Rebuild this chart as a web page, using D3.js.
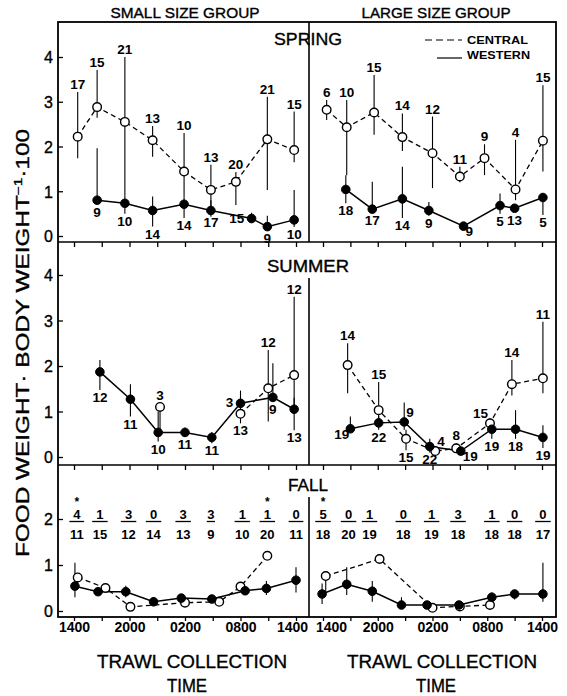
<!DOCTYPE html>
<html>
<head>
<meta charset="utf-8">
<script src="https://cdn.jsdelivr.net/npm/d3@7"></script>
<style>
  body { margin: 0; background: #fff; }
  svg { display: block; font-family: 'Liberation Sans', Arial, Helvetica, sans-serif; }
  .heavy { stroke: #000; stroke-width: 0.35px; }
</style>
</head>
<body>
<svg id="chart" width="567" height="696"></svg>
<script>
// rows: [hours after 1400, mean, lower end of bar, upper end of bar, n]
const springSmallCentral = [
  [0.4, 2.22, 1.74, 3.22, 17], [2.5, 2.88, 2.64, 3.71, 15], [5.5, 2.55, 0.9, 4.0, 21],
  [8.5, 2.14, 1.77, 2.46, 13], [11.9, 1.44, 0.88, 2.3, 10], [14.8, 1.03, 0.43, 1.59, 13],
  [17.5, 1.21, 0.69, 1.43, 20], [20.9, 2.16, 1.03, 3.11, 21], [23.8, 1.92, 1.65, 2.78, 15]
];
const springSmallWestern = [
  [2.5, 0.8, 0.8, 1.96, 9], [5.5, 0.73, 0.5, 0.9, 10], [8.5, 0.57, 0.21, 0.88, 14],
  [11.9, 0.71, 0.4, 0.88, 14], [14.8, 0.57, 0.47, 0.8, 17], [19.2, 0.39, 0.3, 0.52, 15],
  [20.9, 0.21, 0.15, 0.45, 9], [23.8, 0.36, 0.2, 1.03, 10]
];
const springLargeCentral = [
  [0.4, 2.82, 2.59, 3.04, 6], [2.6, 2.43, 1.36, 3.04, 10], [5.6, 2.76, 2.26, 3.6, 15],
  [8.7, 2.21, 1.9, 2.74, 14], [12.0, 1.85, 1.07, 2.67, 12], [15.0, 1.33, 1.2, 1.55, 11],
  [17.7, 1.74, 1.36, 2.05, 9], [21.1, 1.04, 0.8, 2.15, 4], [24.1, 2.13, 1.44, 3.37, 15]
];
const springLargeWestern = [
  [2.5, 1.04, 0.73, 1.36, 18], [5.4, 0.6, 0.6, 1.21, 17], [8.7, 0.83, 0.4, 1.55, 14],
  [11.6, 0.57, 0.45, 0.76, 9], [15.4, 0.22, 0.22, 0.3, 9], [19.4, 0.68, 0.5, 0.95, 5],
  [21.0, 0.62, 0.62, 0.7, 13], [24.1, 0.86, 0.47, 0.86, 5]
];
// null = break in the connecting line
const summerSmallCentral = [
  [9.3, 1.1, 0.6, 1.1, 3], null, [18.0, 0.95, 0.74, 0.95, 13],
  [21.0, 1.51, 0.78, 2.35, 12], [23.8, 1.8, 1.0, 3.52, 12]
];
const summerSmallWestern = [
  [2.8, 1.87, 1.47, 2.13, 12], [6.1, 1.27, 0.89, 1.6, 11], [9.1, 0.54, 0.34, 1.0, 10],
  [12.0, 0.54, 0.45, 0.65, 11], [14.9, 0.43, 0.3, 0.55, 11], [18.0, 1.18, 0.9, 1.46, 3],
  [21.5, 1.31, 1.31, 2.06, 9], [23.8, 1.05, 0.59, 1.3, 13]
];
const summerLargeCentral = [
  [2.7, 2.02, 1.4, 2.5, 14], [6.1, 1.03, 0.75, 1.65, 15], [9.1, 0.4, 0.15, 0.6, 15],
  [12.3, 0.13, 0.1, 0.2, 4], [14.6, 0.19, 0.19, 0.3, 8], [18.3, 0.74, 0.6, 0.85, 15],
  [20.7, 1.6, 1.35, 2.13, 14], [24.1, 1.73, 1.4, 2.97, 11]
];
const summerLargeWestern = [
  [3.0, 0.62, 0.62, 0.89, 19], [6.1, 0.75, 0.6, 0.9, 22], [8.9, 0.77, 0.6, 1.2, 9],
  [11.7, 0.23, 0.1, 0.4, 22], [15.1, 0.13, 0.13, 0.2, 19], [18.5, 0.61, 0.4, 0.8, 19],
  [21.1, 0.61, 0.4, 1.03, 18], [24.1, 0.43, 0.2, 0.7, 19]
];
const fallSmallCentral = [
  [0.4, 0.73, 0.5, 0.8], [3.4, 0.5, 0.45, 0.55], [6.1, 0.09, 0.05, 0.12], [12.0, 0.18, 0.15, 0.22],
  [15.7, 0.2, 0.18, 0.23], [18.0, 0.53, 0.45, 0.6], [20.9, 1.2, 1.2, 1.2]
];
const fallSmallWestern = [
  [0.1, 0.54, 0.3, 1.05], [2.6, 0.42, 0.35, 0.5], [5.6, 0.42, 0.3, 0.55], [8.6, 0.2, 0.15, 0.3],
  [11.6, 0.28, 0.2, 0.35], [14.9, 0.26, 0.2, 0.35], [18.5, 0.44, 0.35, 0.5], [20.8, 0.49, 0.35, 0.65],
  [24.0, 0.67, 0.4, 0.95]
];
const fallLargeCentral = [
  [0.3, 0.76, 0.4, 0.76], [6.2, 1.13, 1.13, 1.13], [12.0, 0.07, 0.07, 0.07],
  [15.0, 0.1, 0.1, 0.1], [18.3, 0.13, 0.13, 0.13]
];
const fallLargeWestern = [
  [-0.1, 0.37, 0.15, 0.6], [2.6, 0.58, 0.35, 0.95], [5.4, 0.43, 0.2, 0.65], [8.6, 0.13, 0.13, 0.3],
  [11.4, 0.13, 0.1, 0.16], [14.9, 0.13, 0.1, 0.16], [18.5, 0.3, 0.2, 0.4], [21.0, 0.37, 0.25, 0.45],
  [24.1, 0.37, 0.2, 1.05]
];

// fall sample counts shown as fractions
const fallSmallTimes = [0.3, 2.8, 5.9, 8.6, 11.8, 14.8, 18.2, 20.9, 24.0];
const fallSmallTop = [4, 1, 3, 0, 3, 3, 1, 1, 0];
const fallSmallN = [11, 15, 12, 14, 13, 9, 10, 20, 11];
const fallSmallStar = [1, 0, 0, 0, 0, 0, 0, 1, 0];
const fallLargeTimes = [0.0, 2.8, 5.1, 8.8, 11.9, 14.8, 18.5, 21.0, 24.1];
const fallLargeTop = [5, 0, 1, 0, 1, 3, 1, 0, 0];
const fallLargeN = [18, 20, 19, 18, 19, 18, 18, 18, 17];
const fallLargeStar = [1, 0, 0, 0, 0, 0, 0, 0, 0];

const tickHours = [0, 3, 6, 9, 12, 15, 18, 21, 24];
const timeLabels = { 0: '1400', 6: '2000', 12: '0200', 18: '0800', 24: '1400' };

// where the n labels sit relative to each point
const sides = {
  springSmallCentral: 'aaaaaaaaa'.split(''),
  springSmallWestern: ['b', 'b', 'b', 'b', 'b', 'l', 'b', 'b'],
  springLargeCentral: 'aaaaaaaaa'.split(''),
  springLargeWestern: ['b', 'b', 'b', 'b', 'br', 'b', 'b', 'b'],
  summerSmallCentral: ['a', null, 'b', 'a', 'a'],
  summerSmallWestern: ['b', 'b', 'b', 'b', 'b', 'l', 'b', 'b'],
  summerLargeCentral: ['a', 'a', 'b', 'ar', 'a', 'al', 'a', 'a'],
  summerLargeWestern: ['bl', 'b', 'ar', 'b', 'br', 'b', 'b', 'b']
};

const svg = d3.select('#chart');
const frame = { left: 58, right: 556, top: 22, bottom: 617 };
const mid = 309;
const R = 4.3;

const xSmall = d3.scaleLinear().domain([0, 24]).range([74, 296]);
const xLarge = d3.scaleLinear().domain([0, 24]).range([323, 542]);
const ySpring = d3.scaleLinear().domain([0, 4]).range([236, 57]);
const ySummer = d3.scaleLinear().domain([0, 4]).range([457, 275]);
const yFall = d3.scaleLinear().domain([0, 2]).range([611, 519]);

// frame and panel separators
svg.append('rect')
  .attr('x', frame.left).attr('y', frame.top)
  .attr('width', frame.right - frame.left).attr('height', frame.bottom - frame.top)
  .attr('fill', 'none').attr('stroke', '#000').attr('stroke-width', 1.8);
[242, 465].forEach(yy => {
  svg.append('line').attr('x1', frame.left).attr('x2', frame.right)
    .attr('y1', yy).attr('y2', yy).attr('stroke', '#000').attr('stroke-width', 1.6);
});
[[22, 242], [278, 465], [497, 617]].forEach(([a, b]) => {
  svg.append('line').attr('x1', mid).attr('x2', mid).attr('y1', a).attr('y2', b)
    .attr('stroke', '#000').attr('stroke-width', 1.6);
});

// y axes, ticks pointing inward
[[ySpring, [0, 1, 2, 3, 4]], [ySummer, [0, 1, 2, 3, 4]], [yFall, [0, 1, 2]]].forEach(([y, vals]) => {
  const g = svg.append('g').attr('transform', `translate(${frame.left},0)`)
    .call(d3.axisLeft(y).tickValues(vals).tickSize(-5).tickPadding(5).tickFormat(d3.format('d')));
  g.select('.domain').remove();
  g.selectAll('line').attr('stroke-width', 1.3);
  g.selectAll('text').attr('font-size', 16).attr('font-family', null).attr('dy', '0.36em')
    .attr('class', 'heavy');
});

// x ticks along the horizontal lines
[xSmall, xLarge].forEach((x, k) => {
  [242, 465].forEach(yy => {
    const g = svg.append('g').attr('transform', `translate(0,${yy})`)
      .call(d3.axisBottom(x).tickValues(tickHours).tickSize(5).tickFormat(''));
    g.select('.domain').remove();
    g.selectAll('line').attr('stroke-width', 1.3);
  });
  const g = svg.append('g').attr('transform', `translate(0,${frame.bottom})`)
    .call(d3.axisBottom(x).tickValues(tickHours).tickSize(4).tickPadding(1)
      .tickFormat(d => timeLabels[d] || ''));
  g.select('.domain').remove();
  g.selectAll('line').attr('stroke-width', 1.3);
  g.selectAll('text').attr('font-size', 14).attr('font-weight', 'bold').attr('font-family', null)
    // the two 1400 labels at the centre divider are pushed apart
    .attr('dx', d => (k === 0 && d === 24 ? -4 : k === 1 && d === 0 ? 8 : 0));
});

const layer = svg.append('g');
const lineLayer = layer.append('g');
const dotLayer = layer.append('g');
const labelLayer = layer.append('g');

function drawSeries(data, x, y, central, labelSides) {
  const pts = data.filter(d => d);
  lineLayer.append('path')
    .datum(data)
    .attr('d', d3.line().defined(d => d).x(d => x(d[0])).y(d => y(d[1])))
    .attr('fill', 'none').attr('stroke', '#000')
    .attr('stroke-width', central ? 1.3 : 1.5)
    .attr('stroke-dasharray', central ? '5,3.5' : null);
  lineLayer.selectAll(null).data(pts.filter(d => d[2] !== d[3])).enter().append('line')
    .attr('x1', d => x(d[0])).attr('x2', d => x(d[0]))
    .attr('y1', d => y(d[2])).attr('y2', d => y(d[3]))
    .attr('stroke', '#000').attr('stroke-width', 1.1);
  dotLayer.selectAll(null).data(pts).enter().append('circle')
    .attr('cx', d => x(d[0])).attr('cy', d => y(d[1])).attr('r', R)
    .attr('fill', central ? '#fff' : '#000')
    .attr('stroke', '#000').attr('stroke-width', central ? 1.4 : 1);
  if (!labelSides) return;
  data.forEach((d, i) => {
    if (!d) return;
    const s = labelSides[i];
    const px = x(d[0]), py = y(d[1]);
    let tx = px, ty, anchor = 'middle';
    if (s === 'a') ty = Math.min(y(d[3]), py - R) - 3;
    else if (s === 'b') ty = Math.max(y(d[2]), py + R) + 12;
    else if (s === 'l') { tx = px - R - 3; ty = py + 4; anchor = 'end'; }
    else if (s === 'r') { tx = px + R + 3; ty = py + 4; anchor = 'start'; }
    else if (s === 'al') { tx = px - 2; ty = py - R - 1; anchor = 'end'; }
    else if (s === 'ar') { tx = px + 2; ty = py - R - 1; anchor = 'start'; }
    else if (s === 'bl') { tx = px - 1; ty = py + R + 6; anchor = 'end'; }
    else if (s === 'br') { tx = px + 2; ty = py + R + 6; anchor = 'start'; }
    labelLayer.append('text')
      .attr('x', tx).attr('y', ty).attr('text-anchor', anchor)
      .attr('font-size', 13.5).attr('font-weight', 'bold')
      .text(d[4]);
  });
}

drawSeries(springSmallCentral, xSmall, ySpring, true, sides.springSmallCentral);
drawSeries(springSmallWestern, xSmall, ySpring, false, sides.springSmallWestern);
drawSeries(springLargeCentral, xLarge, ySpring, true, sides.springLargeCentral);
drawSeries(springLargeWestern, xLarge, ySpring, false, sides.springLargeWestern);
drawSeries(summerSmallCentral, xSmall, ySummer, true, sides.summerSmallCentral);
drawSeries(summerSmallWestern, xSmall, ySummer, false, sides.summerSmallWestern);
drawSeries(summerLargeCentral, xLarge, ySummer, true, sides.summerLargeCentral);
drawSeries(summerLargeWestern, xLarge, ySummer, false, sides.summerLargeWestern);
drawSeries(fallSmallCentral, xSmall, yFall, true);
drawSeries(fallSmallWestern, xSmall, yFall, false);
drawSeries(fallLargeCentral, xLarge, yFall, true);
drawSeries(fallLargeWestern, xLarge, yFall, false);

// fall fractions
function drawFractions(times, top, n, star, x) {
  times.forEach((t, i) => {
    const cx = x(t);
    const g = labelLayer.append('g').attr('font-size', 13).attr('font-weight', 'bold')
      .attr('text-anchor', 'middle');
    const a = g.append('text').attr('x', cx).attr('y', 519).text(top[i]);
    const b = g.append('text').attr('x', cx).attr('y', 539).text(n[i]);
    const w = Math.max(a.node().getComputedTextLength(), b.node().getComputedTextLength()) + 1;
    g.append('line').attr('x1', cx - w / 2).attr('x2', cx + w / 2)
      .attr('y1', 521.5).attr('y2', 521.5).attr('stroke', '#000').attr('stroke-width', 1.3);
    if (star[i]) g.append('text').attr('x', cx).attr('y', 505.5).attr('font-size', 12).text('*');
  });
}
drawFractions(fallSmallTimes, fallSmallTop, fallSmallN, fallSmallStar, xSmall);
drawFractions(fallLargeTimes, fallLargeTop, fallLargeN, fallLargeStar, xLarge);

// season names
[['SPRING', 45, 68], ['SUMMER', 272, 82], ['FALL', 490.5, 40]].forEach(([s, yy, len]) => {
  svg.append('text').attr('x', 308).attr('y', yy).attr('text-anchor', 'middle')
    .attr('font-size', 17).attr('textLength', len).attr('lengthAdjust', 'spacingAndGlyphs')
    .attr('class', 'heavy').text(s);
});

// group headers
[['SMALL SIZE GROUP', 185], ['LARGE SIZE GROUP', 436]].forEach(([s, cx]) => {
  svg.append('text').attr('x', cx).attr('y', 18).attr('text-anchor', 'middle')
    .attr('font-size', 14).attr('textLength', 149).attr('lengthAdjust', 'spacingAndGlyphs')
    .attr('class', 'heavy').text(s);
});

// x titles
[[192, 187], [442, 436]].forEach(([cx, cx2]) => {
  svg.append('text').attr('x', cx).attr('y', 668).attr('text-anchor', 'middle')
    .attr('font-size', 18).attr('textLength', 190).attr('lengthAdjust', 'spacingAndGlyphs')
    .attr('class', 'heavy').text('TRAWL COLLECTION');
  svg.append('text').attr('x', cx2).attr('y', 692).attr('text-anchor', 'middle')
    .attr('font-size', 18).attr('textLength', 40).attr('lengthAdjust', 'spacingAndGlyphs')
    .attr('class', 'heavy').text('TIME');
});

// y title
const yt = svg.append('text')
  .attr('transform', 'translate(29,343) rotate(-90)')
  .attr('text-anchor', 'middle').attr('font-size', 17.5)
  .attr('textLength', 428).attr('lengthAdjust', 'spacingAndGlyphs').attr('class', 'heavy');
yt.append('tspan').text('FOOD WEIGHT\u00b7 BODY WEIGHT');
yt.append('tspan').attr('font-size', 11).attr('dy', -7).text('\u22121');
yt.append('tspan').attr('dy', 7).text('\u00b7100');

// legend
const leg = svg.append('g').attr('font-size', 11).attr('font-weight', 'bold');
leg.append('line').attr('x1', 425).attr('x2', 462).attr('y1', 40).attr('y2', 40)
  .attr('stroke', '#000').attr('stroke-width', 1.2).attr('stroke-dasharray', '7,4');
leg.append('text').attr('x', 467).attr('y', 44).attr('textLength', 61)
  .attr('lengthAdjust', 'spacingAndGlyphs').text('CENTRAL');
leg.append('line').attr('x1', 437).attr('x2', 462).attr('y1', 58).attr('y2', 58)
  .attr('stroke', '#000').attr('stroke-width', 1.2);
leg.append('text').attr('x', 467).attr('y', 59).attr('textLength', 63)
  .attr('lengthAdjust', 'spacingAndGlyphs').text('WESTERN');
</script>
</body>
</html>
